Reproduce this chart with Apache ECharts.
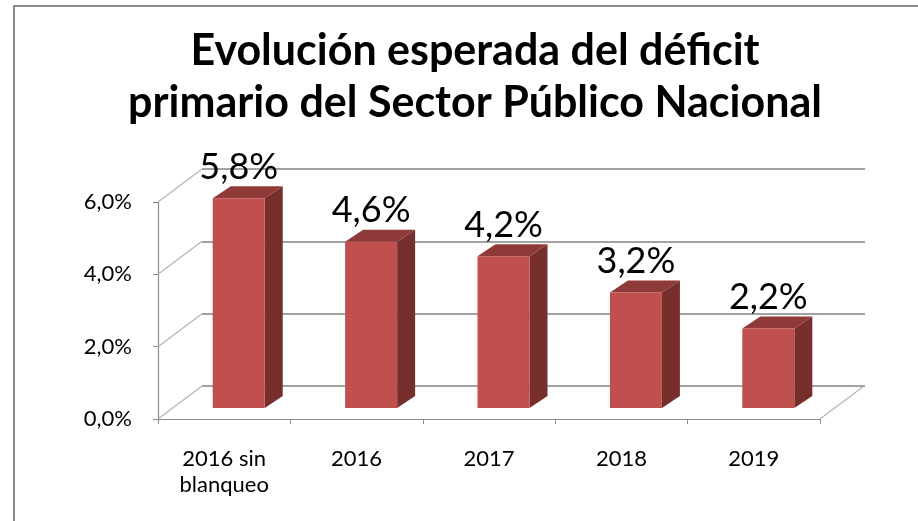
<!DOCTYPE html>
<html>
<head>
<meta charset="utf-8">
<script src="https://cdn.jsdelivr.net/npm/echarts@6/dist/echarts.min.js"></script>
<style>
  html, body { margin: 0; padding: 0; background: #fff; }
  #chart { width: 918px; height: 521px; }
</style>
</head>
<body>
<div id="chart"></div>
<script>
// datos del gráfico
const categories = ['2016 sin\nblanqueo', '2016', '2017', '2018', '2019']
const deficit = [5.8, 4.6, 4.2, 3.2, 2.2]
const yTicks = [0, 2, 4, 6]
const titleLines = ['Evolución esperada del déficit', 'primario del Sector Público Nacional']

// profundidad de la caja 3D
const DX = 44
const DY = -33
const BAR_W = 52
const BAR_DX = 18
const BAR_DY = -12
const BAR_POS = 0.33

const FONT = 'Lato, "Open Sans", sans-serif'
const fmt = v => v.toFixed(1).replace('.', ',') + '%'

const chart = echarts.init(document.getElementById('chart'), null, { renderer: 'canvas' })

// paredes: líneas diagonales del lateral y borde derecho del piso
function renderWall(params, api) {
  const v = api.value(0)
  const cs = params.coordSys
  const p = api.coord([0, v])
  const lineStyle = { stroke: '#b4b4b4', lineWidth: 1.2 }
  const children = [
    { type: 'line', shape: { x1: cs.x, y1: p[1], x2: cs.x + DX, y2: p[1] + DY }, style: lineStyle },
  ]
  if (v === 0) {
    children.push({
      type: 'line',
      shape: { x1: cs.x + cs.width, y1: p[1], x2: cs.x + cs.width + DX, y2: p[1] + DY },
      style: lineStyle,
    })
  }
  return { type: 'group', children }
}

// barras 3D
function renderBar(params, api) {
  const base = api.coord([api.value(0), 0])
  const top = api.coord([api.value(0), api.value(1)])
  const h = base[1] - top[1]
  const bx = base[0] + DX * BAR_POS - BAR_W / 2
  const by = base[1] + DY * BAR_POS
  const ty = by - h
  return {
    type: 'group',
    children: [
      {
        type: 'polygon',
        shape: { points: [[bx + BAR_W, ty], [bx + BAR_W + BAR_DX, ty + BAR_DY], [bx + BAR_W + BAR_DX, by + BAR_DY], [bx + BAR_W, by]] },
        style: { fill: '#772f2d' },
      },
      {
        type: 'polygon',
        shape: { points: [[bx, ty], [bx + BAR_W, ty], [bx + BAR_W + BAR_DX, ty + BAR_DY], [bx + BAR_DX, ty + BAR_DY]] },
        style: { fill: '#8f3a38' },
      },
      {
        type: 'rect',
        shape: { x: bx, y: ty, width: BAR_W, height: h },
        style: { fill: '#c0504d' },
      },
      {
        type: 'text',
        style: {
          text: fmt(api.value(1)),
          x: bx + BAR_W / 2,
          y: ty + BAR_DY - 1,
          align: 'center',
          verticalAlign: 'bottom',
          fill: '#000',
          font: '36px ' + FONT,
        },
      },
    ],
  }
}

const option = {
  animation: false,
  backgroundColor: '#fff',
  graphic: [
    {
      type: 'rect',
      shape: { x: 14, y: 6, width: 960, height: 600 },
      style: { fill: 'none', stroke: '#8a8a8a', lineWidth: 2 },
    },
    {
      type: 'text',
      style: {
        text: titleLines.join('\n'),
        x: 475,
        y: 25,
        align: 'center',
        font: 'bold 43px ' + FONT,
        lineHeight: 52,
        fill: '#000',
      },
    },
  ],
  grid: [
    { left: 158, right: 98, top: 202, bottom: 102 },
    { left: 158 + DX, right: 98 - DX - 1, top: 202 + DY, bottom: 102 - DY },
  ],
  xAxis: [
    {
      gridIndex: 0,
      type: 'category',
      data: categories,
      axisLine: { lineStyle: { color: '#8c8c8c', width: 1.2 } },
      axisTick: { show: true, interval: 0, length: 5, lineStyle: { color: '#8c8c8c' } },
      axisLabel: { interval: 0, margin: 27, fontSize: 22, lineHeight: 26, color: '#000', fontFamily: FONT },
    },
    { gridIndex: 1, type: 'category', data: categories, show: false },
  ],
  yAxis: [
    {
      gridIndex: 0,
      min: 0,
      max: 6,
      interval: 2,
      axisLine: { show: true, lineStyle: { color: '#8c8c8c', width: 1.2 } },
      axisTick: { show: true, length: 5, lineStyle: { color: '#8c8c8c' } },
      splitLine: { show: false },
      axisLabel: { margin: 26, fontSize: 22, color: '#000', fontFamily: FONT, formatter: fmt },
    },
    {
      gridIndex: 1,
      min: 0,
      max: 6,
      interval: 2,
      axisLine: { show: false },
      axisTick: { show: false },
      axisLabel: { show: false },
      splitLine: { show: true, lineStyle: { color: '#a2a2a2', width: 2 } },
    },
  ],
  series: [
    {
      type: 'custom',
      xAxisIndex: 0,
      yAxisIndex: 0,
      data: yTicks.map(v => [v]),
      encode: { y: 0 },
      renderItem: renderWall,
      z: 1,
      silent: true,
    },
    {
      type: 'custom',
      xAxisIndex: 0,
      yAxisIndex: 0,
      data: deficit.map((v, i) => [i, v]),
      renderItem: renderBar,
      z: 5,
    },
  ],
}

chart.setOption(option)
</script>
</body>
</html>
